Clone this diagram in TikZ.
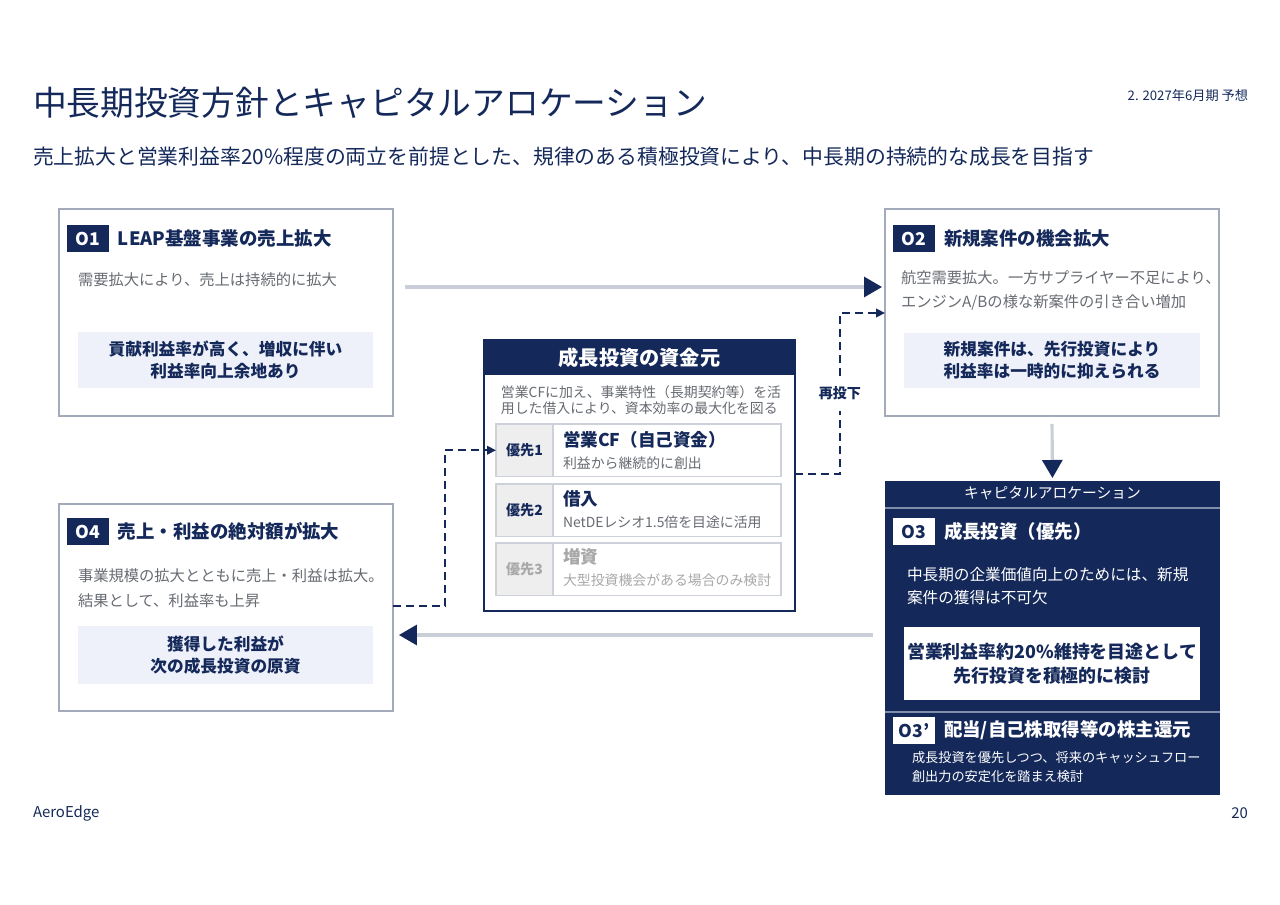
\documentclass[tikz,border=0pt]{standalone}
\usepackage{fontspec}
\setmainfont{Noto Sans CJK JP}
\usetikzlibrary{arrows.meta,positioning}
\definecolor{navy}{HTML}{14295A}
\definecolor{boxline}{HTML}{A3ABBB}
\definecolor{softfill}{HTML}{EEF0FA}
\definecolor{railgray}{HTML}{C9CED9}
\definecolor{bodygray}{HTML}{676B72}
\definecolor{cellfill}{HTML}{EEEEEF}
\definecolor{cellline}{HTML}{CDD2DA}
\definecolor{mutegray}{HTML}{A8A8A8}
\definecolor{sepline}{HTML}{7F8DAA}

\begin{document}
\begin{tikzpicture}[x=0.02cm,y=-0.02cm,
  every node/.style={inner sep=0pt,outer sep=0pt},
  panel/.style={draw=boxline,line width=0.9pt,fill=white,anchor=north west,minimum width=6.68cm,minimum height=4.14cm},
  badge/.style={fill=navy,text=white,anchor=north west,minimum width=0.84cm,minimum height=0.54cm,font=\fontsize{10}{12}\selectfont\bfseries},
  wbadge/.style={badge,fill=white,text=navy},
  ptitle/.style={anchor=west,right=0.18cm of #1,text=navy,font=\fontsize{10.5}{12}\selectfont\bfseries},
  wtitle/.style={ptitle=#1,text=white},
  pbody/.style={anchor=west,align=left,text=bodygray,font=\fontsize{8.7}{14}\selectfont},
  hilite/.style={fill=softfill,align=center,text=navy,minimum width=5.9cm,minimum height=1.12cm,font=\fontsize{9.5}{12.5}\selectfont\bfseries},
  rowbox/.style={draw=cellline,line width=0.7pt,fill=white,anchor=north west,minimum width=5.7cm,minimum height=1.05cm},
  rowcell/.style={draw=cellline,line width=0.7pt,fill=cellfill,anchor=north west,minimum width=1.14cm,minimum height=1.05cm,text=navy,font=\fontsize{8}{10}\selectfont\bfseries},
  rowhead/.style={anchor=west,text=navy,font=\fontsize{10}{12}\selectfont\bfseries},
  rowsub/.style={anchor=west,text=bodygray,font=\fontsize{7.9}{10}\selectfont},
  rail/.style={draw=railgray,line width=1.8pt,-{Triangle[length=0.36cm,width=0.4cm,color=navy]}},
  dashflow/.style={draw=navy,line width=1.4pt,dash pattern=on 0.16cm off 0.1cm,-{Triangle[length=0.18cm,width=0.17cm]}}]
\useasboundingbox (0,0) rectangle (1280,905);

\node[anchor=west,text=navy,font=\fontsize{19.2}{23}\selectfont] (title) at (33,103) {中長期投資方針とキャピタルアロケーション};
\node[anchor=east,text=navy,font=\fontsize{7.5}{9}\selectfont] (period) at (1248,95) {2. 2027年6月期 予想};
\node[anchor=west,text=navy,font=\fontsize{11.85}{15}\selectfont] (lead) at (33,157) {売上拡大と営業利益率20\%程度の両立を前提とした、規律のある積極投資により、中長期の持続的な成長を目指す};

% O1
\node[panel] (o1) at (59,209) {};
\node[badge] (b1) at (67,225) {O1};
\node[ptitle=b1] (t1) {LEAP基盤事業の売上拡大};
\node[pbody] (d1) at (78,280) {需要拡大により、売上は持続的に拡大};
\node[hilite] (h1) at (225.5,360) {貢献利益率が高く、増収に伴い\\利益率向上余地あり};

% O2
\node[panel] (o2) at (885,209) {};
\node[badge] (b2) at (893,225) {O2};
\node[ptitle=b2] (t2) {新規案件の機会拡大};
\node[pbody] (d2) at (901,290.5) {航空需要拡大。一方サプライヤー不足により、\\エンジンA/Bの様な新案件の引き合い増加};
\node[hilite,minimum width=5.92cm] (h2) at (1052,360.5) {新規案件は、先行投資により\\利益率は一時的に抑えられる};

% O4
\node[panel] (o4) at (59,504) {};
\node[badge] (b4) at (67,518) {O4};
\node[ptitle=b4] (t4) {売上・利益の絶対額が拡大};
\node[pbody] (d4) at (78,588) {事業規模の拡大とともに売上・利益は拡大。\\結果として、利益率も上昇};
\node[hilite,minimum height=1.16cm] (h4) at (225.5,655) {獲得した利益が\\次の成長投資の原資};

% funding sources
\node[draw=navy,line width=1.2pt,fill=white,anchor=north west,minimum width=6.22cm,minimum height=5.42cm] (fund) at (484,340) {};
\node[fill=navy,anchor=north west,minimum width=6.22cm,minimum height=0.7cm,text=white,font=\fontsize{11.5}{13}\selectfont\bfseries] (fundhead) at (484,340) {成長投資の資金元};
\node[align=left,text=bodygray,font=\fontsize{7.9}{9.1}\selectfont] (fundnote) at (641,400) {営業CFに加え、事業特性（長期契約等）を活\\用した借入により、資本効率の最大化を図る};

\node[rowbox] (row1) at (496,424) {};
\node[rowcell] (c1) at (496,424) {優先1};
\node[rowhead] (r1) at (563,440) {営業CF（自己資金）};
\node[rowsub] (s1) at (563,463) {利益から継続的に創出};

\node[rowbox] (row2) at (496,484) {};
\node[rowcell] (c2) at (496,484) {優先2};
\node[rowhead] (r2) at (563,499) {借入};
\node[rowsub] (s2) at (563,522) {NetDEレシオ1.5倍を目途に活用};

\node[rowbox] (row3) at (496,543) {};
\node[rowcell,text=mutegray] (c3) at (496,543) {優先3};
\node[rowhead,text=mutegray] (r3) at (563,557) {増資};
\node[rowsub,text=mutegray] (s3) at (563,580) {大型投資機会がある場合のみ検討};

% capital allocation
\node[fill=navy,anchor=north west,minimum width=6.7cm,minimum height=6.28cm] (cap) at (885,481) {};
\node[text=white,font=\fontsize{8.4}{10}\selectfont] (caphead) at (1052.5,493.5) {キャピタルアロケーション};
\draw[sepline,line width=0.7pt] (cap.north west) ++(0,27) -- ++(335,0);
\draw[sepline,line width=0.7pt] (cap.north west) ++(0,231) -- ++(335,0);

\node[wbadge] (b3) at (893,518) {O3};
\node[wtitle=b3] (t3) {成長投資（優先）};
\node[pbody,text=white,font=\fontsize{8.9}{13.6}\selectfont] (d3) at (907,586) {中長期の企業価値向上のためには、新規\\案件の獲得は不可欠};
\node[fill=white,align=center,text=navy,minimum width=5.92cm,minimum height=1.46cm,font=\fontsize{10.2}{13.6}\selectfont\bfseries] (w3) at (1052,663.5) {営業利益率約20\%維持を目途として\\先行投資を積極的に検討};

\node[wbadge] (b3p) at (893,717) {O3’};
\node[wtitle=b3p] (t3p) {配当/自己株取得等の株主還元};
\node[pbody,text=white,font=\fontsize{7.5}{11.3}\selectfont] (d3p) at (912,767) {成長投資を優先しつつ、将来のキャッシュフロー\\創出力の安定化を踏まえ検討};

% connectors
\coordinate (railA) at (0,287);
\coordinate (railB) at (0,313);
\coordinate (railC) at (0,474);
\coordinate (railD) at (0,606);
\coordinate (railE) at (0,635);

\draw[rail,shorten <=0.24cm,shorten >=0.06cm] (o1.east |- railA) -- (o2.west |- railA);
\draw[rail,shorten <=0.16cm,shorten >=0.06cm] (o2.south) -- (cap.north);
\draw[rail,shorten <=0.24cm,shorten >=0.12cm] (cap.west |- railE) -- (o4.east |- railE);

\draw[dashflow] (fund.east |- railC) -- ++(45,0) |- node[pos=0.25,fill=white,minimum height=0.72cm,minimum width=1cm,text=navy,font=\fontsize{8}{10}\selectfont\bfseries] (reinvest) {再投下} (o2.west |- railB);
\draw[dashflow] (o4.east |- railD) -- ++(52,0) |- (row1.west);

\node[anchor=west,text=navy,font=\fontsize{8.5}{10}\selectfont] (brand) at (33,813) {AeroEdge};
\node[anchor=east,text=navy,font=\fontsize{8.5}{10}\selectfont] (pageno) at (1248,813) {20};
\end{tikzpicture}
\end{document}
